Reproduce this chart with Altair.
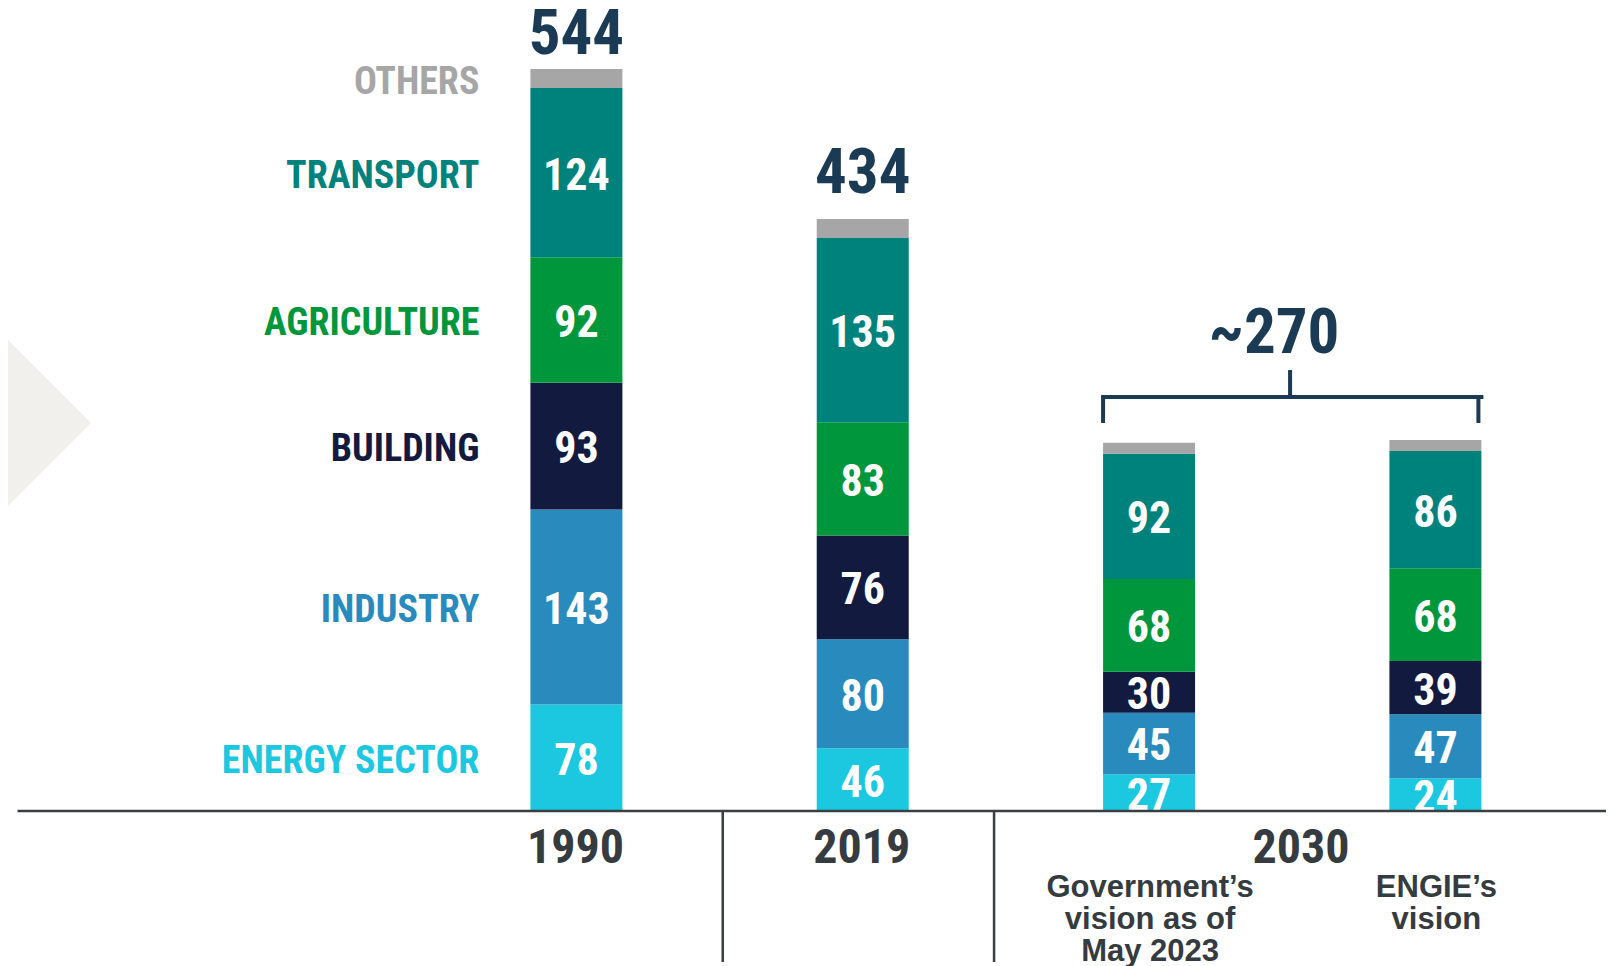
import altair as alt
import pandas as pd

# ---------------- data ----------------
keys = ["1990", "2019", "2030 Government", "2030 ENGIE"]
sectors = ["ENERGY SECTOR", "INDUSTRY", "BUILDING", "AGRICULTURE", "TRANSPORT", "OTHERS"]
energy = [78, 46, 27, 24]
industry = [143, 80, 45, 47]
building = [93, 76, 30, 39]
agriculture = [92, 83, 68, 68]
transport = [124, 135, 92, 86]
others = [14, 14, 8, 8]
total_labels = ["544", "434"]
total_2030_label = "~270"
year_labels = ["1990", "2019", "2030"]
sub_labels = ["Government\u2019s\nvision as of\nMay 2023", "ENGIE\u2019s\nvision"]
colors = ["#1cc8df", "#298bbd", "#121a40", "#00963c", "#00827c", "#a6a6a6"]

series = [energy, industry, building, agriculture, transport, others]
rows = []
for i, k in enumerate(keys):
    cum = 0
    for j, s in enumerate(sectors):
        v = series[j][i]
        rows.append(dict(key=k, sector=s, idx=j, value=v, y0=cum, y1=cum + v, mid=cum + v / 2))
        cum += v
df = pd.DataFrame(rows)
tot = df.groupby("key", sort=False)["value"].sum().reset_index()
tot.columns = ["key", "total"]
df_tot = tot.iloc[:2].copy()
df_tot["label"] = total_labels
level_2030 = float(tot.iloc[2:]["total"].max())

NARROW = "Liberation Sans Narrow, Arial Narrow, Roboto Condensed, DejaVu Sans Condensed, sans-serif"
SANS = "Liberation Sans, Arial, Helvetica, sans-serif"
DARKBLUE = "#1b3a54"
GREY = "#353b3e"

xscale = alt.Scale(domain=keys, paddingInner=0.6787, paddingOuter=0, range=[522.4, 1473.4])
yscale = alt.Scale(domain=[0, 588.7], nice=False, zero=True)


def X(**kw):
    return alt.X("key:N", sort=keys, scale=xscale, axis=None, **kw)


color_scale = alt.Scale(domain=sectors, range=colors)

one = pd.DataFrame({"d": [0]})

diamond = alt.Chart(one).mark_point(
    shape="M -1 0 L 0 -1 L 1 0 L 0 1 Z", size=35344, filled=True,
    color="#f1f0ec", opacity=1, strokeWidth=0
).encode(x=alt.value(-11), y=alt.value(415))

bars = alt.Chart(df).mark_bar().encode(
    x=X(),
    y=alt.Y("y1:Q", scale=yscale, axis=None),
    y2="y0:Q",
    color=alt.Color("sector:N", scale=color_scale, legend=None),
)

values = alt.Chart(df[df["sector"] != "OTHERS"]).mark_text(
    font=NARROW, fontWeight="bold", fontSize=44, color="white",
    baseline="middle", align="center", clip=True, dy=4
).encode(x=X(), y=alt.Y("mid:Q", scale=yscale, axis=None), text="value:Q")

cats = alt.Chart(df[df["key"] == "1990"]).mark_text(
    font=NARROW, fontWeight="bold", fontSize=38, align="right",
    baseline="middle", dx=-97, dy=4
).encode(
    x=X(), y=alt.Y("mid:Q", scale=yscale, axis=None), text="sector:N",
    color=alt.Color("sector:N", scale=color_scale, legend=None),
)

totals_a = alt.Chart(df_tot.iloc[:1]).mark_text(
    font=NARROW, fontWeight="bold", fontSize=63, color=DARKBLUE,
    baseline="alphabetic", align="center", dy=-15
).encode(x=X(), y=alt.Y("total:Q", scale=yscale, axis=None), text="label:N")
totals_b = alt.Chart(df_tot.iloc[1:]).mark_text(
    font=NARROW, fontWeight="bold", fontSize=63, color=DARKBLUE,
    baseline="alphabetic", align="center", dy=-26
).encode(x=X(), y=alt.Y("total:Q", scale=yscale, axis=None), text="label:N")

br = pd.DataFrame({"a": [keys[2]], "b": [keys[3]], "level": [level_2030], "label": [total_2030_label]})

br_h = alt.Chart(br).mark_rule(color=DARKBLUE, strokeWidth=4, yOffset=-43, strokeCap="square").encode(
    x=alt.X("a:N", sort=keys, scale=xscale, axis=None, bandPosition=0),
    x2=alt.X2("b:N", bandPosition=1),
    y=alt.Y("level:Q", scale=yscale, axis=None),
)
br_l = alt.Chart(br).mark_rule(color=DARKBLUE, strokeWidth=4, yOffset=-43, y2Offset=-17).encode(
    x=alt.X("a:N", sort=keys, scale=xscale, axis=None, bandPosition=0),
    y=alt.Y("level:Q", scale=yscale, axis=None), y2="level:Q",
)
br_r = alt.Chart(br).mark_rule(color=DARKBLUE, strokeWidth=4, yOffset=-43, y2Offset=-17, xOffset=-3).encode(
    x=alt.X("b:N", sort=keys, scale=xscale, axis=None, bandPosition=1),
    y=alt.Y("level:Q", scale=yscale, axis=None), y2="level:Q",
)
br_t = alt.Chart(br).mark_rule(color=DARKBLUE, strokeWidth=4, yOffset=-43, y2Offset=-70, xOffset=141).encode(
    x=alt.X("a:N", sort=keys, scale=xscale, axis=None),
    y=alt.Y("level:Q", scale=yscale, axis=None), y2="level:Q",
)
br_text = alt.Chart(br).mark_text(
    font=NARROW, fontWeight="bold", fontSize=63, color=DARKBLUE,
    baseline="alphabetic", align="center", dy=-87, dx=125
).encode(x=alt.X("a:N", sort=keys, scale=xscale, axis=None),
         y=alt.Y("level:Q", scale=yscale, axis=None), text="label:N")

baseline = alt.Chart(one).mark_rule(color="#3b3f42", strokeWidth=2.7).encode(
    x=alt.value(9.5), x2=alt.value(1598), y=alt.value(803)
)
sep1 = alt.Chart(pd.DataFrame({"key": [keys[1]]})).mark_rule(color="#3b3f42", strokeWidth=2.5, xOffset=-140).encode(
    x=X(), y=alt.value(803), y2=alt.value(954)
)
sep2 = alt.Chart(pd.DataFrame({"key": [keys[2]]})).mark_rule(color="#3b3f42", strokeWidth=2.5, xOffset=-155).encode(
    x=X(), y=alt.value(803), y2=alt.value(954)
)

years_a = alt.Chart(pd.DataFrame({"key": keys[:2], "label": year_labels[:2]})).mark_text(
    font=NARROW, fontWeight="bold", fontSize=48, color=GREY, baseline="alphabetic", align="center", dx=-1
).encode(x=X(), y=alt.value(855), text="label:N")
years_b = alt.Chart(pd.DataFrame({"key": [keys[2]], "label": [year_labels[2]]})).mark_text(
    font=NARROW, fontWeight="bold", fontSize=48, color=GREY, baseline="alphabetic", align="center", dx=152
).encode(x=X(), y=alt.value(855), text="label:N")

subs = alt.Chart(pd.DataFrame({"key": keys[2:], "label": sub_labels})).mark_text(
    font=SANS, fontWeight="bold", fontSize=31, color=GREY, baseline="alphabetic",
    align="center", lineBreak="\n", lineHeight=32, dx=1
).encode(x=X(), y=alt.value(889), text="label:N")

chart = alt.layer(
    diamond, bars, values, cats, totals_a, totals_b, br_h, br_l, br_r, br_t, br_text,
    baseline, sep1, sep2, years_a, years_b, subs
).properties(
    width=1598, height=803,
    padding={"left": 0, "top": 0, "right": 0, "bottom": 155},
    autosize=alt.AutoSizeParams(type="none"),
).configure_view(stroke=None)

chart.save("out.html", embed_options={"renderer": "svg", "actions": False})
